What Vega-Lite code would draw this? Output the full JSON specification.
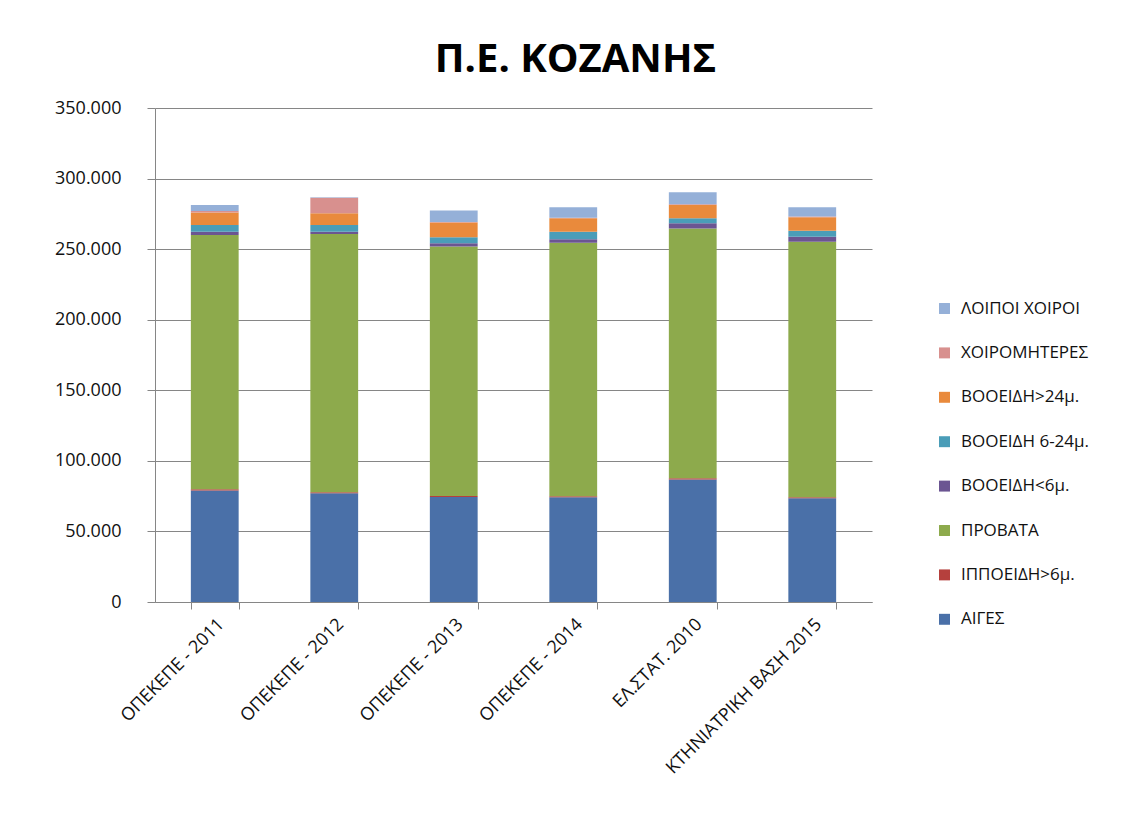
{
  "$schema": "https://vega.github.io/schema/vega-lite/v6.json",
  "autosize": "none",
  "width": 717,
  "height": 494,
  "padding": {"left": 155, "top": 108, "right": 256, "bottom": 234},
  "background": "white",
  "config": {
    "locale": {"number": {"decimal": ",", "thousands": ".", "grouping": [3], "currency": ["€", ""]}},
    "font": "Open Sans",
    "view": {"stroke": null},
    "axis": {"labelColor": "#111", "titleColor": "#111"}
  },
  "title": {
    "text": "Π.Ε. ΚΟΖΑΝΗΣ",
    "font": "Open Sans",
    "fontSize": 40,
    "fontWeight": "bold",
    "color": "#000",
    "anchor": "middle",
    "dx": 62,
    "offset": 19
  },
  "data": {
    "values": [
      {"cat": "ΟΠΕΚΕΠΕ - 2011", "s": "ΑΙΓΕΣ", "k": 1, "v": 79000},
      {"cat": "ΟΠΕΚΕΠΕ - 2011", "s": "ΙΠΠΟΕΙΔΗ>6μ.", "k": 2, "v": 800},
      {"cat": "ΟΠΕΚΕΠΕ - 2011", "s": "ΠΡΟΒΑΤΑ", "k": 3, "v": 180200},
      {"cat": "ΟΠΕΚΕΠΕ - 2011", "s": "ΒΟΟΕΙΔΗ<6μ.", "k": 4, "v": 2400},
      {"cat": "ΟΠΕΚΕΠΕ - 2011", "s": "ΒΟΟΕΙΔΗ 6-24μ.", "k": 5, "v": 4700},
      {"cat": "ΟΠΕΚΕΠΕ - 2011", "s": "ΒΟΟΕΙΔΗ>24μ.", "k": 6, "v": 8900},
      {"cat": "ΟΠΕΚΕΠΕ - 2011", "s": "ΧΟΙΡΟΜΗΤΕΡΕΣ", "k": 7, "v": 1000},
      {"cat": "ΟΠΕΚΕΠΕ - 2011", "s": "ΛΟΙΠΟΙ ΧΟΙΡΟΙ", "k": 8, "v": 4300},

      {"cat": "ΟΠΕΚΕΠΕ - 2012", "s": "ΑΙΓΕΣ", "k": 1, "v": 77000},
      {"cat": "ΟΠΕΚΕΠΕ - 2012", "s": "ΙΠΠΟΕΙΔΗ>6μ.", "k": 2, "v": 700},
      {"cat": "ΟΠΕΚΕΠΕ - 2012", "s": "ΠΡΟΒΑΤΑ", "k": 3, "v": 183000},
      {"cat": "ΟΠΕΚΕΠΕ - 2012", "s": "ΒΟΟΕΙΔΗ<6μ.", "k": 4, "v": 1700},
      {"cat": "ΟΠΕΚΕΠΕ - 2012", "s": "ΒΟΟΕΙΔΗ 6-24μ.", "k": 5, "v": 4700},
      {"cat": "ΟΠΕΚΕΠΕ - 2012", "s": "ΒΟΟΕΙΔΗ>24μ.", "k": 6, "v": 8300},
      {"cat": "ΟΠΕΚΕΠΕ - 2012", "s": "ΧΟΙΡΟΜΗΤΕΡΕΣ", "k": 7, "v": 11000},
      {"cat": "ΟΠΕΚΕΠΕ - 2012", "s": "ΛΟΙΠΟΙ ΧΟΙΡΟΙ", "k": 8, "v": 300},

      {"cat": "ΟΠΕΚΕΠΕ - 2013", "s": "ΑΙΓΕΣ", "k": 1, "v": 74400},
      {"cat": "ΟΠΕΚΕΠΕ - 2013", "s": "ΙΠΠΟΕΙΔΗ>6μ.", "k": 2, "v": 700},
      {"cat": "ΟΠΕΚΕΠΕ - 2013", "s": "ΠΡΟΒΑΤΑ", "k": 3, "v": 176700},
      {"cat": "ΟΠΕΚΕΠΕ - 2013", "s": "ΒΟΟΕΙΔΗ<6μ.", "k": 4, "v": 2300},
      {"cat": "ΟΠΕΚΕΠΕ - 2013", "s": "ΒΟΟΕΙΔΗ 6-24μ.", "k": 5, "v": 4300},
      {"cat": "ΟΠΕΚΕΠΕ - 2013", "s": "ΒΟΟΕΙΔΗ>24μ.", "k": 6, "v": 10400},
      {"cat": "ΟΠΕΚΕΠΕ - 2013", "s": "ΧΟΙΡΟΜΗΤΕΡΕΣ", "k": 7, "v": 500},
      {"cat": "ΟΠΕΚΕΠΕ - 2013", "s": "ΛΟΙΠΟΙ ΧΟΙΡΟΙ", "k": 8, "v": 8000},

      {"cat": "ΟΠΕΚΕΠΕ - 2014", "s": "ΑΙΓΕΣ", "k": 1, "v": 74300},
      {"cat": "ΟΠΕΚΕΠΕ - 2014", "s": "ΙΠΠΟΕΙΔΗ>6μ.", "k": 2, "v": 700},
      {"cat": "ΟΠΕΚΕΠΕ - 2014", "s": "ΠΡΟΒΑΤΑ", "k": 3, "v": 179600},
      {"cat": "ΟΠΕΚΕΠΕ - 2014", "s": "ΒΟΟΕΙΔΗ<6μ.", "k": 4, "v": 2400},
      {"cat": "ΟΠΕΚΕΠΕ - 2014", "s": "ΒΟΟΕΙΔΗ 6-24μ.", "k": 5, "v": 5400},
      {"cat": "ΟΠΕΚΕΠΕ - 2014", "s": "ΒΟΟΕΙΔΗ>24μ.", "k": 6, "v": 9400},
      {"cat": "ΟΠΕΚΕΠΕ - 2014", "s": "ΧΟΙΡΟΜΗΤΕΡΕΣ", "k": 7, "v": 500},
      {"cat": "ΟΠΕΚΕΠΕ - 2014", "s": "ΛΟΙΠΟΙ ΧΟΙΡΟΙ", "k": 8, "v": 7400},

      {"cat": "ΕΛ.ΣΤΑΤ. 2010", "s": "ΑΙΓΕΣ", "k": 1, "v": 86800},
      {"cat": "ΕΛ.ΣΤΑΤ. 2010", "s": "ΙΠΠΟΕΙΔΗ>6μ.", "k": 2, "v": 800},
      {"cat": "ΕΛ.ΣΤΑΤ. 2010", "s": "ΠΡΟΒΑΤΑ", "k": 3, "v": 177100},
      {"cat": "ΕΛ.ΣΤΑΤ. 2010", "s": "ΒΟΟΕΙΔΗ<6μ.", "k": 4, "v": 3600},
      {"cat": "ΕΛ.ΣΤΑΤ. 2010", "s": "ΒΟΟΕΙΔΗ 6-24μ.", "k": 5, "v": 3500},
      {"cat": "ΕΛ.ΣΤΑΤ. 2010", "s": "ΒΟΟΕΙΔΗ>24μ.", "k": 6, "v": 9500},
      {"cat": "ΕΛ.ΣΤΑΤ. 2010", "s": "ΧΟΙΡΟΜΗΤΕΡΕΣ", "k": 7, "v": 500},
      {"cat": "ΕΛ.ΣΤΑΤ. 2010", "s": "ΛΟΙΠΟΙ ΧΟΙΡΟΙ", "k": 8, "v": 8500},

      {"cat": "ΚΤΗΝΙΑΤΡΙΚΗ ΒΑΣΗ 2015", "s": "ΑΙΓΕΣ", "k": 1, "v": 73500},
      {"cat": "ΚΤΗΝΙΑΤΡΙΚΗ ΒΑΣΗ 2015", "s": "ΙΠΠΟΕΙΔΗ>6μ.", "k": 2, "v": 700},
      {"cat": "ΚΤΗΝΙΑΤΡΙΚΗ ΒΑΣΗ 2015", "s": "ΠΡΟΒΑΤΑ", "k": 3, "v": 181100},
      {"cat": "ΚΤΗΝΙΑΤΡΙΚΗ ΒΑΣΗ 2015", "s": "ΒΟΟΕΙΔΗ<6μ.", "k": 4, "v": 3500},
      {"cat": "ΚΤΗΝΙΑΤΡΙΚΗ ΒΑΣΗ 2015", "s": "ΒΟΟΕΙΔΗ 6-24μ.", "k": 5, "v": 4300},
      {"cat": "ΚΤΗΝΙΑΤΡΙΚΗ ΒΑΣΗ 2015", "s": "ΒΟΟΕΙΔΗ>24μ.", "k": 6, "v": 9500},
      {"cat": "ΚΤΗΝΙΑΤΡΙΚΗ ΒΑΣΗ 2015", "s": "ΧΟΙΡΟΜΗΤΕΡΕΣ", "k": 7, "v": 500},
      {"cat": "ΚΤΗΝΙΑΤΡΙΚΗ ΒΑΣΗ 2015", "s": "ΛΟΙΠΟΙ ΧΟΙΡΟΙ", "k": 8, "v": 6600}
    ]
  },
  "mark": {"type": "bar"},
  "encoding": {
    "x": {
      "field": "cat",
      "type": "nominal",
      "sort": null,
      "scale": {"paddingInner": 0.6, "paddingOuter": 0.3},
      "axis": {
        "title": null,
        "labelAngle": -45,
        "labelAlign": "right",
        "labelBaseline": "top",
        "labelFontSize": 18,
        "labelPadding": 6,
        "labelLimit": 400,
        "tickBand": "extent",
        "tickSize": 7,
        "tickColor": "#868686",
        "domainColor": "#868686",
        "grid": false
      }
    },
    "y": {
      "field": "v",
      "type": "quantitative",
      "stack": "zero",
      "scale": {"domain": [0, 350000], "nice": false},
      "axis": {
        "title": null,
        "values": [0, 50000, 100000, 150000, 200000, 250000, 300000, 350000],
        "format": ",d",
        "labelFontSize": 18,
        "labelPadding": 26,
        "tickSize": 8,
        "tickColor": "#868686",
        "domainColor": "#868686",
        "gridColor": "#868686",
        "gridWidth": 1
      }
    },
    "color": {
      "field": "s",
      "type": "nominal",
      "scale": {
        "domain": ["ΛΟΙΠΟΙ ΧΟΙΡΟΙ", "ΧΟΙΡΟΜΗΤΕΡΕΣ", "ΒΟΟΕΙΔΗ>24μ.", "ΒΟΟΕΙΔΗ 6-24μ.", "ΒΟΟΕΙΔΗ<6μ.", "ΠΡΟΒΑΤΑ", "ΙΠΠΟΕΙΔΗ>6μ.", "ΑΙΓΕΣ"],
        "range": ["#95B0D8", "#D8908E", "#E98A3C", "#4A9DB8", "#6B5592", "#8DAA4C", "#B5403D", "#4A70A8"]
      },
      "legend": {
        "title": null,
        "orient": "none",
        "legendX": 781,
        "legendY": 192,
        "symbolType": "square",
        "symbolSize": 120,
        "symbolStrokeWidth": 0,
        "labelFontSize": 17,
        "labelColor": "#111",
        "labelOffset": 8,
        "rowPadding": 26.4,
        "labelLimit": 300
      }
    },
    "order": {"field": "k", "type": "quantitative", "sort": "ascending"}
  }
}
